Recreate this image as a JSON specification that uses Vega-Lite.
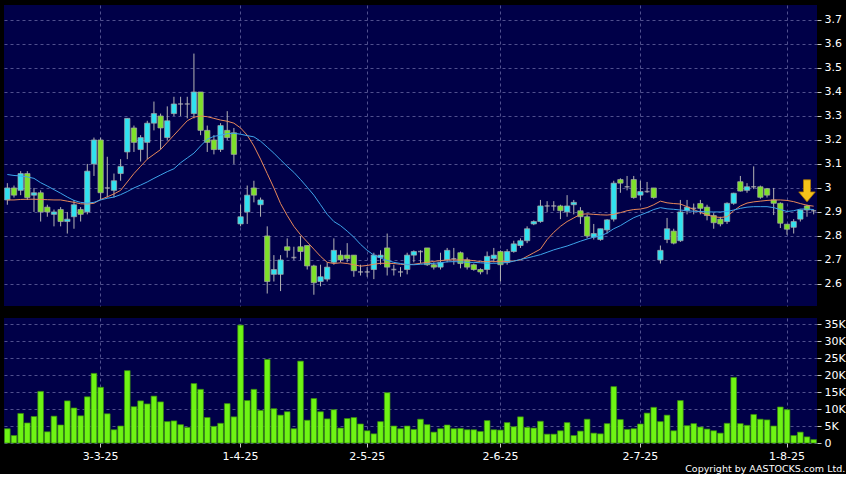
{
  "$schema": "https://vega.github.io/schema/vega-lite/v6.json",
  "background": "#000000",
  "padding": {"left": 4, "top": 5, "right": 0, "bottom": 0},
  "spacing": 12,
  "title": {"text": "Copyright by AASTOCKS.com Ltd.", "orient": "bottom", "anchor": "end", "color": "#ffffff", "fontSize": 9.5, "fontWeight": "normal", "font": "DejaVu Sans", "offset": 3},
  "config": {
    "view": {"stroke": null, "fill": "#000048"},
    "axis": {"labelColor": "#ffffff", "labelFont": "DejaVu Sans", "labelFontSize": 11, "tickColor": "#c8c8c8", "tickSize": 4, "domain": false, "gridColor": "#50508e", "gridDash": [3, 3], "gridWidth": 1, "title": null, "labelPadding": 3, "labelOverlap": false},
    "axisY": {"orient": "right"}
  },
  "datasets": {
    "bars": [
      {"d":"2025-02-11","open":2.95,"high":3.02,"low":2.93,"close":3.0,"volume":4200,"ma10":2.95,"ma20":3.056},
      {"d":"2025-02-12","open":3.0,"high":3.01,"low":2.96,"close":2.97,"volume":2200,"ma10":2.95,"ma20":3.052},
      {"d":"2025-02-13","open":2.99,"high":3.07,"low":2.97,"close":3.06,"volume":8700,"ma10":2.952,"ma20":3.05},
      {"d":"2025-02-14","open":3.06,"high":3.07,"low":2.95,"close":2.96,"volume":5900,"ma10":2.953,"ma20":3.046},
      {"d":"2025-02-17","open":2.97,"high":3.0,"low":2.9,"close":2.98,"volume":7800,"ma10":2.953,"ma20":3.04},
      {"d":"2025-02-18","open":2.98,"high":2.99,"low":2.86,"close":2.9,"volume":15200,"ma10":2.952,"ma20":3.022},
      {"d":"2025-02-19","open":2.92,"high":2.93,"low":2.88,"close":2.9,"volume":3300,"ma10":2.951,"ma20":3.008},
      {"d":"2025-02-20","open":2.89,"high":2.91,"low":2.84,"close":2.9,"volume":7900,"ma10":2.95,"ma20":2.993},
      {"d":"2025-02-21","open":2.91,"high":2.92,"low":2.84,"close":2.86,"volume":5300,"ma10":2.95,"ma20":2.978},
      {"d":"2025-02-24","open":2.86,"high":2.9,"low":2.81,"close":2.87,"volume":12400,"ma10":2.945,"ma20":2.962},
      {"d":"2025-02-25","open":2.88,"high":2.95,"low":2.83,"close":2.93,"volume":10300,"ma10":2.94,"ma20":2.948},
      {"d":"2025-02-26","open":2.91,"high":2.92,"low":2.86,"close":2.89,"volume":8000,"ma10":2.934,"ma20":2.94},
      {"d":"2025-02-27","open":2.9,"high":3.1,"low":2.89,"close":3.07,"volume":13600,"ma10":2.933,"ma20":2.937},
      {"d":"2025-02-28","open":3.1,"high":3.21,"low":3.05,"close":3.2,"volume":20500,"ma10":2.936,"ma20":2.94},
      {"d":"2025-03-03","open":3.2,"high":3.21,"low":2.95,"close":2.98,"volume":16400,"ma10":2.952,"ma20":2.95},
      {"d":"2025-03-04","open":3.0,"high":3.13,"low":2.96,"close":3.0,"volume":8600,"ma10":2.963,"ma20":2.957},
      {"d":"2025-03-05","open":2.99,"high":3.06,"low":2.96,"close":3.03,"volume":3900,"ma10":2.975,"ma20":2.962},
      {"d":"2025-03-06","open":3.06,"high":3.12,"low":3.03,"close":3.09,"volume":5000,"ma10":2.99,"ma20":2.972},
      {"d":"2025-03-07","open":3.15,"high":3.29,"low":3.12,"close":3.29,"volume":21300,"ma10":3.025,"ma20":2.985},
      {"d":"2025-03-10","open":3.25,"high":3.26,"low":3.15,"close":3.19,"volume":10700,"ma10":3.06,"ma20":3.0},
      {"d":"2025-03-11","open":3.16,"high":3.22,"low":3.11,"close":3.21,"volume":12400,"ma10":3.09,"ma20":3.012},
      {"d":"2025-03-12","open":3.19,"high":3.28,"low":3.12,"close":3.27,"volume":11500,"ma10":3.12,"ma20":3.025},
      {"d":"2025-03-13","open":3.27,"high":3.36,"low":3.24,"close":3.31,"volume":13800,"ma10":3.14,"ma20":3.04},
      {"d":"2025-03-14","open":3.3,"high":3.31,"low":3.16,"close":3.25,"volume":12100,"ma10":3.16,"ma20":3.054},
      {"d":"2025-03-17","open":3.21,"high":3.34,"low":3.2,"close":3.28,"volume":6300,"ma10":3.19,"ma20":3.068},
      {"d":"2025-03-18","open":3.31,"high":3.38,"low":3.3,"close":3.35,"volume":6500,"ma10":3.22,"ma20":3.08},
      {"d":"2025-03-19","open":3.35,"high":3.38,"low":3.3,"close":3.35,"volume":5400,"ma10":3.25,"ma20":3.105},
      {"d":"2025-03-20","open":3.35,"high":3.38,"low":3.29,"close":3.35,"volume":4600,"ma10":3.28,"ma20":3.125},
      {"d":"2025-03-21","open":3.31,"high":3.56,"low":3.29,"close":3.4,"volume":17500,"ma10":3.295,"ma20":3.145},
      {"d":"2025-03-24","open":3.4,"high":3.4,"low":3.22,"close":3.24,"volume":15800,"ma10":3.3,"ma20":3.175},
      {"d":"2025-03-25","open":3.24,"high":3.26,"low":3.15,"close":3.19,"volume":7500,"ma10":3.297,"ma20":3.203},
      {"d":"2025-03-26","open":3.2,"high":3.22,"low":3.14,"close":3.16,"volume":4900,"ma10":3.29,"ma20":3.215},
      {"d":"2025-03-27","open":3.16,"high":3.27,"low":3.15,"close":3.26,"volume":5800,"ma10":3.283,"ma20":3.22},
      {"d":"2025-03-28","open":3.24,"high":3.32,"low":3.2,"close":3.21,"volume":11600,"ma10":3.278,"ma20":3.226},
      {"d":"2025-03-31","open":3.23,"high":3.25,"low":3.1,"close":3.14,"volume":7700,"ma10":3.27,"ma20":3.228},
      {"d":"2025-04-01","open":2.85,"high":2.93,"low":2.84,"close":2.88,"volume":34700,"ma10":3.25,"ma20":3.224},
      {"d":"2025-04-02","open":2.9,"high":3.01,"low":2.85,"close":2.97,"volume":12500,"ma10":3.22,"ma20":3.218},
      {"d":"2025-04-03","open":3.0,"high":3.03,"low":2.94,"close":2.97,"volume":15800,"ma10":3.175,"ma20":3.213},
      {"d":"2025-04-07","open":2.93,"high":2.96,"low":2.88,"close":2.95,"volume":9600,"ma10":3.12,"ma20":3.195},
      {"d":"2025-04-08","open":2.8,"high":2.84,"low":2.56,"close":2.61,"volume":24600,"ma10":3.06,"ma20":3.17},
      {"d":"2025-04-09","open":2.64,"high":2.72,"low":2.61,"close":2.66,"volume":10100,"ma10":3.0,"ma20":3.145},
      {"d":"2025-04-10","open":2.64,"high":2.72,"low":2.57,"close":2.7,"volume":8200,"ma10":2.935,"ma20":3.117},
      {"d":"2025-04-11","open":2.755,"high":2.79,"low":2.71,"close":2.74,"volume":9200,"ma10":2.885,"ma20":3.09},
      {"d":"2025-04-14","open":2.71,"high":2.755,"low":2.7,"close":2.71,"volume":4200,"ma10":2.84,"ma20":3.065},
      {"d":"2025-04-15","open":2.755,"high":2.8,"low":2.7,"close":2.735,"volume":24100,"ma10":2.805,"ma20":3.035},
      {"d":"2025-04-16","open":2.76,"high":2.76,"low":2.66,"close":2.675,"volume":6700,"ma10":2.775,"ma20":3.003},
      {"d":"2025-04-17","open":2.675,"high":2.68,"low":2.555,"close":2.605,"volume":13100,"ma10":2.745,"ma20":2.97},
      {"d":"2025-04-22","open":2.61,"high":2.68,"low":2.59,"close":2.63,"volume":9200,"ma10":2.715,"ma20":2.93},
      {"d":"2025-04-23","open":2.62,"high":2.69,"low":2.61,"close":2.67,"volume":7100,"ma10":2.69,"ma20":2.89},
      {"d":"2025-04-24","open":2.69,"high":2.79,"low":2.68,"close":2.74,"volume":9800,"ma10":2.685,"ma20":2.86},
      {"d":"2025-04-25","open":2.72,"high":2.74,"low":2.69,"close":2.7,"volume":4400,"ma10":2.688,"ma20":2.843},
      {"d":"2025-04-28","open":2.72,"high":2.77,"low":2.69,"close":2.705,"volume":7200,"ma10":2.685,"ma20":2.82},
      {"d":"2025-04-29","open":2.72,"high":2.72,"low":2.63,"close":2.655,"volume":7500,"ma10":2.68,"ma20":2.795},
      {"d":"2025-04-30","open":2.65,"high":2.68,"low":2.635,"close":2.65,"volume":5600,"ma10":2.674,"ma20":2.765},
      {"d":"2025-05-02","open":2.65,"high":2.67,"low":2.63,"close":2.65,"volume":3600,"ma10":2.677,"ma20":2.74},
      {"d":"2025-05-06","open":2.66,"high":2.73,"low":2.62,"close":2.72,"volume":2700,"ma10":2.682,"ma20":2.72},
      {"d":"2025-05-07","open":2.71,"high":2.74,"low":2.68,"close":2.72,"volume":6300,"ma10":2.686,"ma20":2.708},
      {"d":"2025-05-08","open":2.75,"high":2.81,"low":2.635,"close":2.67,"volume":14800,"ma10":2.686,"ma20":2.698},
      {"d":"2025-05-09","open":2.66,"high":2.68,"low":2.635,"close":2.66,"volume":5000,"ma10":2.685,"ma20":2.69},
      {"d":"2025-05-12","open":2.65,"high":2.67,"low":2.63,"close":2.65,"volume":4200,"ma10":2.682,"ma20":2.685},
      {"d":"2025-05-13","open":2.66,"high":2.73,"low":2.64,"close":2.72,"volume":5000,"ma10":2.68,"ma20":2.681},
      {"d":"2025-05-14","open":2.72,"high":2.74,"low":2.69,"close":2.735,"volume":4000,"ma10":2.682,"ma20":2.68},
      {"d":"2025-05-15","open":2.735,"high":2.74,"low":2.685,"close":2.735,"volume":7000,"ma10":2.686,"ma20":2.682},
      {"d":"2025-05-16","open":2.75,"high":2.75,"low":2.675,"close":2.68,"volume":5400,"ma10":2.69,"ma20":2.684},
      {"d":"2025-05-19","open":2.68,"high":2.69,"low":2.66,"close":2.67,"volume":3200,"ma10":2.694,"ma20":2.686},
      {"d":"2025-05-20","open":2.67,"high":2.73,"low":2.66,"close":2.69,"volume":4200,"ma10":2.697,"ma20":2.688},
      {"d":"2025-05-21","open":2.7,"high":2.75,"low":2.69,"close":2.74,"volume":5300,"ma10":2.7,"ma20":2.692},
      {"d":"2025-05-22","open":2.705,"high":2.75,"low":2.68,"close":2.705,"volume":4200,"ma10":2.7,"ma20":2.693},
      {"d":"2025-05-23","open":2.73,"high":2.735,"low":2.665,"close":2.685,"volume":4300,"ma10":2.7,"ma20":2.692},
      {"d":"2025-05-26","open":2.7,"high":2.71,"low":2.66,"close":2.67,"volume":3900,"ma10":2.7,"ma20":2.69},
      {"d":"2025-05-27","open":2.68,"high":2.685,"low":2.655,"close":2.66,"volume":3900,"ma10":2.697,"ma20":2.69},
      {"d":"2025-05-28","open":2.66,"high":2.665,"low":2.64,"close":2.65,"volume":3400,"ma10":2.693,"ma20":2.688},
      {"d":"2025-05-29","open":2.66,"high":2.735,"low":2.64,"close":2.715,"volume":6600,"ma10":2.693,"ma20":2.686},
      {"d":"2025-05-30","open":2.705,"high":2.75,"low":2.69,"close":2.72,"volume":3900,"ma10":2.693,"ma20":2.686},
      {"d":"2025-06-02","open":2.735,"high":2.74,"low":2.61,"close":2.68,"volume":3800,"ma10":2.693,"ma20":2.687},
      {"d":"2025-06-03","open":2.69,"high":2.745,"low":2.68,"close":2.735,"volume":6000,"ma10":2.693,"ma20":2.689},
      {"d":"2025-06-04","open":2.735,"high":2.78,"low":2.73,"close":2.767,"volume":4800,"ma10":2.696,"ma20":2.695},
      {"d":"2025-06-05","open":2.76,"high":2.79,"low":2.75,"close":2.78,"volume":7700,"ma10":2.7,"ma20":2.702},
      {"d":"2025-06-06","open":2.78,"high":2.84,"low":2.77,"close":2.83,"volume":4600,"ma10":2.715,"ma20":2.708},
      {"d":"2025-06-09","open":2.85,"high":2.865,"low":2.845,"close":2.86,"volume":4400,"ma10":2.73,"ma20":2.715},
      {"d":"2025-06-10","open":2.86,"high":2.95,"low":2.855,"close":2.925,"volume":6400,"ma10":2.745,"ma20":2.722},
      {"d":"2025-06-11","open":2.925,"high":2.945,"low":2.9,"close":2.925,"volume":2600,"ma10":2.785,"ma20":2.732},
      {"d":"2025-06-12","open":2.925,"high":2.945,"low":2.905,"close":2.925,"volume":2600,"ma10":2.815,"ma20":2.742},
      {"d":"2025-06-13","open":2.925,"high":2.93,"low":2.87,"close":2.905,"volume":3600,"ma10":2.84,"ma20":2.75},
      {"d":"2025-06-16","open":2.9,"high":2.97,"low":2.88,"close":2.925,"volume":6000,"ma10":2.86,"ma20":2.758},
      {"d":"2025-06-17","open":2.93,"high":2.95,"low":2.89,"close":2.94,"volume":2200,"ma10":2.875,"ma20":2.768},
      {"d":"2025-06-18","open":2.905,"high":2.92,"low":2.85,"close":2.88,"volume":3500,"ma10":2.89,"ma20":2.778},
      {"d":"2025-06-19","open":2.88,"high":2.89,"low":2.79,"close":2.8,"volume":7000,"ma10":2.892,"ma20":2.787},
      {"d":"2025-06-20","open":2.795,"high":2.85,"low":2.785,"close":2.81,"volume":2900,"ma10":2.89,"ma20":2.795},
      {"d":"2025-06-23","open":2.785,"high":2.83,"low":2.78,"close":2.83,"volume":2700,"ma10":2.888,"ma20":2.8},
      {"d":"2025-06-24","open":2.825,"high":2.87,"low":2.81,"close":2.867,"volume":5700,"ma10":2.887,"ma20":2.812},
      {"d":"2025-06-25","open":2.87,"high":3.03,"low":2.86,"close":3.02,"volume":16600,"ma10":2.89,"ma20":2.83},
      {"d":"2025-06-26","open":3.035,"high":3.04,"low":2.98,"close":3.02,"volume":6900,"ma10":2.897,"ma20":2.843},
      {"d":"2025-06-27","open":3.005,"high":3.05,"low":2.99,"close":3.005,"volume":4000,"ma10":2.905,"ma20":2.86},
      {"d":"2025-06-30","open":3.035,"high":3.05,"low":2.955,"close":2.96,"volume":4200,"ma10":2.91,"ma20":2.876},
      {"d":"2025-07-02","open":2.97,"high":3.03,"low":2.95,"close":2.985,"volume":5600,"ma10":2.912,"ma20":2.887},
      {"d":"2025-07-03","open":2.985,"high":3.025,"low":2.98,"close":2.985,"volume":8800,"ma10":2.918,"ma20":2.898},
      {"d":"2025-07-04","open":3.0,"high":3.0,"low":2.955,"close":2.96,"volume":10500,"ma10":2.93,"ma20":2.91},
      {"d":"2025-07-07","open":2.7,"high":2.76,"low":2.685,"close":2.74,"volume":6300,"ma10":2.945,"ma20":2.918},
      {"d":"2025-07-08","open":2.785,"high":2.875,"low":2.77,"close":2.83,"volume":8200,"ma10":2.938,"ma20":2.913},
      {"d":"2025-07-09","open":2.82,"high":2.83,"low":2.765,"close":2.77,"volume":3600,"ma10":2.935,"ma20":2.911},
      {"d":"2025-07-10","open":2.78,"high":2.95,"low":2.775,"close":2.9,"volume":12500,"ma10":2.933,"ma20":2.908},
      {"d":"2025-07-11","open":2.905,"high":2.95,"low":2.89,"close":2.92,"volume":5100,"ma10":2.922,"ma20":2.905},
      {"d":"2025-07-14","open":2.915,"high":2.935,"low":2.89,"close":2.915,"volume":5700,"ma10":2.91,"ma20":2.903},
      {"d":"2025-07-15","open":2.935,"high":2.95,"low":2.89,"close":2.915,"volume":4700,"ma10":2.898,"ma20":2.902},
      {"d":"2025-07-16","open":2.92,"high":2.93,"low":2.865,"close":2.885,"volume":4100,"ma10":2.888,"ma20":2.9},
      {"d":"2025-07-17","open":2.885,"high":2.895,"low":2.83,"close":2.855,"volume":3600,"ma10":2.88,"ma20":2.9},
      {"d":"2025-07-18","open":2.87,"high":2.88,"low":2.84,"close":2.85,"volume":2900,"ma10":2.877,"ma20":2.9},
      {"d":"2025-07-21","open":2.86,"high":2.94,"low":2.85,"close":2.936,"volume":5800,"ma10":2.88,"ma20":2.902},
      {"d":"2025-07-22","open":2.936,"high":2.98,"low":2.93,"close":2.978,"volume":19300,"ma10":2.905,"ma20":2.908},
      {"d":"2025-07-23","open":3.026,"high":3.05,"low":2.985,"close":2.987,"volume":5700,"ma10":2.925,"ma20":2.915},
      {"d":"2025-07-24","open":2.99,"high":3.02,"low":2.98,"close":3.005,"volume":5200,"ma10":2.937,"ma20":2.92},
      {"d":"2025-07-25","open":3.005,"high":3.09,"low":2.995,"close":3.005,"volume":8400,"ma10":2.942,"ma20":2.922},
      {"d":"2025-07-28","open":3.005,"high":3.01,"low":2.955,"close":2.961,"volume":7000,"ma10":2.945,"ma20":2.922},
      {"d":"2025-07-29","open":2.997,"high":3.0,"low":2.96,"close":2.97,"volume":6800,"ma10":2.948,"ma20":2.922},
      {"d":"2025-07-30","open":2.95,"high":3.0,"low":2.887,"close":2.936,"volume":5000,"ma10":2.95,"ma20":2.918},
      {"d":"2025-07-31","open":2.936,"high":2.94,"low":2.833,"close":2.853,"volume":10600,"ma10":2.95,"ma20":2.91},
      {"d":"2025-08-01","open":2.849,"high":2.85,"low":2.805,"close":2.828,"volume":9800,"ma10":2.948,"ma20":2.902},
      {"d":"2025-08-04","open":2.836,"high":2.87,"low":2.81,"close":2.86,"volume":2200,"ma10":2.943,"ma20":2.905},
      {"d":"2025-08-05","open":2.87,"high":2.91,"low":2.86,"close":2.908,"volume":3200,"ma10":2.935,"ma20":2.912},
      {"d":"2025-08-06","open":2.925,"high":2.93,"low":2.88,"close":2.908,"volume":1800,"ma10":2.928,"ma20":2.912},
      {"d":"2025-08-07","open":2.905,"high":2.91,"low":2.89,"close":2.905,"volume":1000,"ma10":2.924,"ma20":2.91}
    ],
    "marker": [{"d": "2025-08-06", "p": 2.988}]
  },
  "vconcat": [
    {
      "width": 813,
      "height": 301,
      "data": {"name": "bars"},
      "encoding": {
        "x": {"field": "d", "type": "ordinal", "scale": {"paddingInner": 0, "paddingOuter": 0},
              "axis": {"labels": false, "ticks": false, "grid": true, "bandPosition": 0.5,
                       "values": ["2025-03-03", "2025-04-01", "2025-05-02", "2025-06-02", "2025-07-02", "2025-08-01"]}}
      },
      "layer": [
        {
          "mark": {"type": "rule", "color": "#b4b4b4", "strokeWidth": 1},
          "encoding": {
            "y": {"field": "low", "type": "quantitative", "scale": {"domain": [2.508, 3.7625], "zero": false, "nice": false},
                  "axis": {"grid": true, "values": [2.6, 2.7, 2.8, 2.9, 3, 3.1, 3.2, 3.3, 3.4, 3.5, 3.6, 3.7], "format": "~g"}},
            "y2": {"field": "high"}
          }
        },
        {
          "transform": [{"filter": "datum.open != datum.close"}],
          "mark": {"type": "bar", "width": {"band": 0.8}, "stroke": "#a8a8a8", "strokeWidth": 0.7},
          "encoding": {
            "y": {"field": "open", "type": "quantitative",
                  "axis": {"grid": true, "values": [2.6, 2.7, 2.8, 2.9, 3, 3.1, 3.2, 3.3, 3.4, 3.5, 3.6, 3.7], "format": "~g"}},
            "y2": {"field": "close"},
            "fill": {"condition": {"test": "datum.close > datum.open", "value": "#30e2f0"}, "value": "#7ee02a"}
          }
        },
        {
          "transform": [{"filter": "datum.open == datum.close"}],
          "mark": {"type": "tick", "orient": "horizontal", "size": 5, "thickness": 1.5, "color": "#b8b8b8"},
          "encoding": {"y": {"field": "close", "type": "quantitative",
                  "axis": {"grid": true, "values": [2.6, 2.7, 2.8, 2.9, 3, 3.1, 3.2, 3.3, 3.4, 3.5, 3.6, 3.7], "format": "~g"}}}
        },
        {
          "mark": {"type": "line", "color": "#e8885a", "strokeWidth": 1},
          "encoding": {"y": {"field": "ma10", "type": "quantitative",
                  "axis": {"grid": true, "values": [2.6, 2.7, 2.8, 2.9, 3, 3.1, 3.2, 3.3, 3.4, 3.5, 3.6, 3.7], "format": "~g"}}}
        },
        {
          "mark": {"type": "line", "color": "#3ea4ea", "strokeWidth": 1},
          "encoding": {"y": {"field": "ma20", "type": "quantitative",
                  "axis": {"grid": true, "values": [2.6, 2.7, 2.8, 2.9, 3, 3.1, 3.2, 3.3, 3.4, 3.5, 3.6, 3.7], "format": "~g"}}}
        },
        {
          "data": {"name": "marker"},
          "mark": {"type": "point", "shape": "M-0.32,-1 L0.32,-1 L0.32,0.1 L0.75,0.1 L0,1 L-0.75,0.1 L-0.32,0.1 Z", "size": 484, "filled": true, "fill": "#f5c21a", "stroke": "#b07a00", "strokeWidth": 0.8, "opacity": 1},
          "encoding": {"x": {"field": "d", "type": "ordinal"}, "y": {"field": "p", "type": "quantitative",
                  "axis": {"grid": true, "values": [2.6, 2.7, 2.8, 2.9, 3, 3.1, 3.2, 3.3, 3.4, 3.5, 3.6, 3.7], "format": "~g"}}}
        }
      ]
    },
    {
      "width": 813,
      "height": 125,
      "data": {"name": "bars"},
      "mark": {"type": "bar", "width": {"band": 0.85}, "fill": "#6ef414", "stroke": "#3a8c0e", "strokeWidth": 0.7},
      "encoding": {
        "x": {"field": "d", "type": "ordinal", "scale": {"paddingInner": 0, "paddingOuter": 0},
              "axis": {"grid": true, "bandPosition": 0.5, "labelAngle": 0,
                       "values": ["2025-03-03", "2025-04-01", "2025-05-02", "2025-06-02", "2025-07-02", "2025-08-01"],
                       "labelExpr": "toNumber(slice(datum.value, 8, 10)) + '-' + toNumber(slice(datum.value, 5, 7)) + '-' + slice(datum.value, 2, 4)"}},
        "y": {"field": "volume", "type": "quantitative", "scale": {"domain": [0, 36800], "nice": false},
              "axis": {"grid": true, "values": [0, 5000, 10000, 15000, 20000, 25000, 30000, 35000],
                       "labelExpr": "datum.value == 0 ? '0' : format(datum.value / 1000, 'd') + 'K'"}}
      }
    }
  ]
}
